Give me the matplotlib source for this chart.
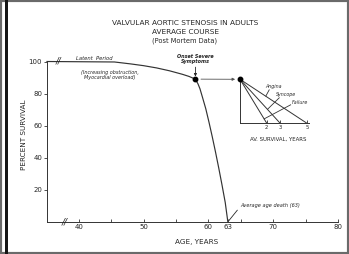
import matplotlib
matplotlib.use("Agg")
import matplotlib.pyplot as plt
from matplotlib.patches import Rectangle

# survival curve
latent_age = [35.1, 45.5, 48, 50, 52, 54, 56, 57, 58]
latent_surv = [100, 99.7, 98.5, 97.4, 96.0, 94.2, 92.0, 90.7, 89]
decline_age = [58, 58.4, 58.7, 59.1, 59.6, 60.1, 60.6, 61.1, 61.6, 62.1, 62.6, 63]
decline_surv = [89, 86, 83, 77.5, 70.5, 62, 53, 43.5, 33.5, 23, 12, 0]
onset = (58, 89)

x_major = [40, 50, 60, 63, 70, 80]
x_minor = [45, 55, 65, 75]
y_ticks = [20, 40, 60, 80, 100]

# inset: average survival after onset of symptoms
symptoms = ["Angina", "Syncope", "Failure"]
survival_years = [5, 3, 2]
inset_ticks = [2, 3, 5]

INK = "#262626"
LINE = "#333333"
W, H = 349, 254

fig = plt.figure(figsize=(W / 100, H / 100), dpi=100)
fig.patch.set_facecolor("white")

ax = fig.add_axes([47 / W, (H - 221.7) / H, (338 - 47) / W, (221.7 - 61.5) / H])
ax.set_xlim(35.1, 80)
ax.set_ylim(0, 100)
for s in ("top", "right"):
    ax.spines[s].set_visible(False)
for s in ("left", "bottom"):
    ax.spines[s].set_color(LINE)
    ax.spines[s].set_linewidth(0.7)

ax.set_xticks(x_major)
ax.set_xticks(x_minor, minor=True)
ax.set_yticks(y_ticks)
ax.set_yticklabels([str(v) for v in y_ticks])
ax.tick_params(axis="x", which="both", direction="in", length=2.5, width=0.6,
               colors=LINE, labelsize=5, labelcolor=INK, pad=2)
ax.tick_params(axis="y", direction="out", length=2.5, width=0.6,
               colors=LINE, labelsize=5, labelcolor=INK, pad=1)

# curve
ax.plot(latent_age, latent_surv, color=LINE, lw=0.85, clip_on=False)
ax.plot(decline_age, decline_surv, color=LINE, lw=0.85, clip_on=False)
ax.plot(*onset, "o", color="black", ms=3.2, clip_on=False, zorder=5)

# axis breaks
ax.text(36.9, 100, "//", fontsize=6, color=INK, ha="center", va="center",
        style="italic", clip_on=False)
ax.text(37.8, 0, "//", fontsize=6.5, color=INK, ha="center", va="center",
        style="italic", clip_on=False)

ax.text(42.4, 100.4, "Latent  Period", fontsize=3.8, style="italic",
        color=INK, ha="center", va="bottom")
ax.text(44.8, 91.6, "(Increasing obstruction,\nMyocardial overload)",
        fontsize=3.5, style="italic", color=INK, ha="center", va="center",
        linespacing=1.2)
ax.annotate("Onset Severe\nSymptoms", xy=(58, 90.6), xytext=(58, 98.2),
            fontsize=3.5, style="italic", weight="bold", color=INK,
            ha="center", va="bottom", linespacing=1.0, annotation_clip=False,
            arrowprops=dict(arrowstyle="-|>", color=INK, lw=0.6,
                            mutation_scale=4, shrinkA=0, shrinkB=0))
ax.annotate("Average age death (63)", xy=(63.15, 0.6), xytext=(64.9, 10.3),
            fontsize=3.6, style="italic", color=INK, ha="left", va="center",
            arrowprops=dict(arrowstyle="-", color=INK, lw=0.6,
                            relpos=(0, 0.2), shrinkA=0, shrinkB=0))

# inset
ins = fig.add_axes([240 / W, (H - 123.3) / H, 69 / W, 44 / H])
ins.set_xlim(0, 5.15)
ins.set_ylim(0, 1)
ins.patch.set_alpha(0)
for s in ("top", "right"):
    ins.spines[s].set_visible(False)
for s in ("left", "bottom"):
    ins.spines[s].set_color(LINE)
    ins.spines[s].set_linewidth(0.7)
ins.set_xticks(inset_ticks)
ins.set_yticks([])
ins.tick_params(axis="x", direction="in", length=2, width=0.6, colors=LINE,
                labelsize=3.8, labelcolor=INK, pad=1)
for yr in survival_years:
    ins.plot([0, yr], [1, 0], color=LINE, lw=0.7, clip_on=False)
ins.plot(0, 1, "o", color="black", ms=3.2, clip_on=False, zorder=5)

label_pos = {"Angina": (2.5, 0.84), "Syncope": (3.4, 0.65), "Failure": (4.5, 0.47)}
leaders = {"Angina": ((2.18, 0.76), (1.93, 0.62)),
           "Syncope": ((2.93, 0.58), (2.06, 0.32)),
           "Failure": ((3.78, 0.42), (1.80, 0.10))}
for name in symptoms:
    lx, ly = label_pos[name]
    ins.text(lx, ly, name, fontsize=3.4, style="italic", color=INK,
             ha="center", va="center", clip_on=False)
    (x0, y0), (x1, y1) = leaders[name]
    ins.plot([x0, x1], [y0, y1], color=LINE, lw=0.6, clip_on=False)

ins.text(2.85, -0.36, "AV. SURVIVAL, YEARS", fontsize=3.9, color=INK,
         ha="center", va="center", clip_on=False)

# arrow from onset to inset
ax.annotate("", xy=(0, 1), xycoords=ins.transData, xytext=onset,
            textcoords="data", annotation_clip=False,
            arrowprops=dict(arrowstyle="-|>", color="#555555", lw=0.6,
                            mutation_scale=4, shrinkA=4, shrinkB=3.5))

# titles and axis labels
fig.text(185 / W, 1 - 23 / H, "VALVULAR AORTIC STENOSIS IN ADULTS",
         fontsize=5.3, color=INK, ha="center", va="center")
fig.text(185 / W, 1 - 32 / H, "AVERAGE COURSE", fontsize=5.3, color=INK,
         ha="center", va="center")
fig.text(185 / W, 1 - 41 / H, "(Post Mortem Data)", fontsize=4.8, color=INK,
         ha="center", va="center")
fig.text(24 / W, 1 - 135 / H, "PERCENT SURVIVAL", fontsize=5.2, color=INK,
         ha="center", va="center", rotation=90)
fig.text(197 / W, 1 - 242 / H, "AGE, YEARS", fontsize=5.2, color=INK,
         ha="center", va="center")

# scanned-page frame
fig.patches.append(Rectangle((0, 0), 1, 1, transform=fig.transFigure,
                             fill=False, edgecolor="#6a6a6a", lw=3))
fig.patches.append(Rectangle((5 / W, 0), 3 / W, 1, transform=fig.transFigure,
                             facecolor="#151515", edgecolor="none"))

fig.savefig("out.png", dpi=100)
